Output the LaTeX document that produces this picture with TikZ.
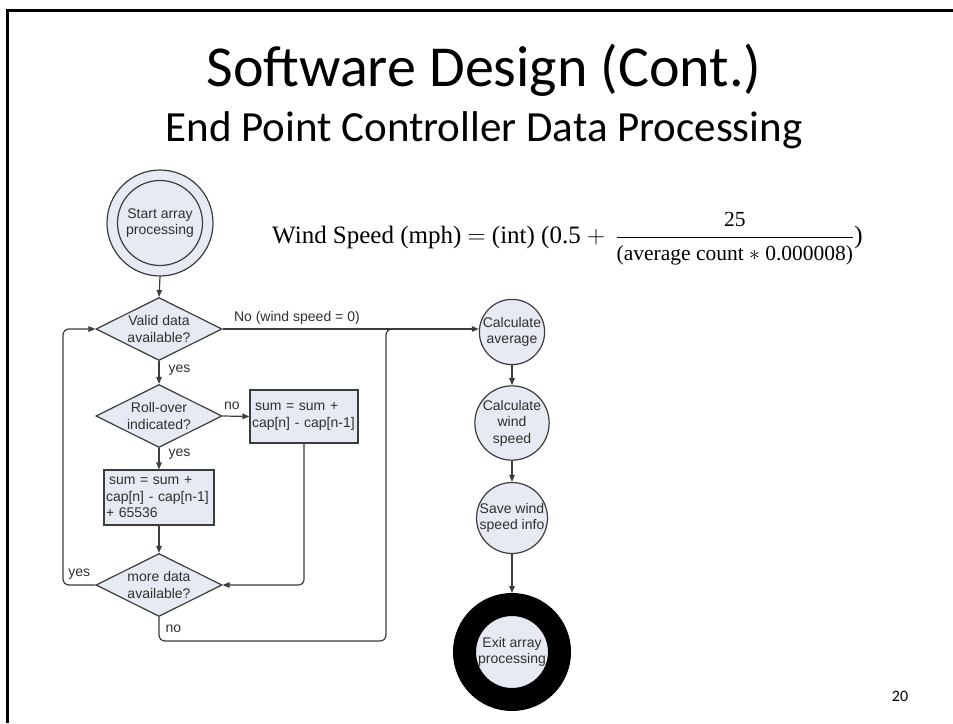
\documentclass[tikz,border=0pt]{standalone}
\usepackage{fix-cm}
\usepackage{fontspec}
\setmainfont{Carlito}
\newfontfamily\arialf{Liberation Sans}
\newfontfamily\seriff{Liberation Serif}
\usetikzlibrary{shapes.geometric,arrows.meta}
\definecolor{fillc}{HTML}{E6EAF3}
\definecolor{linec}{HTML}{3C3C3C}
\newcommand{\fracfont}{\seriff\fontsize{21.5}{23}\selectfont}
\tikzset{
  fc/.style={draw=linec, line width=1.2pt, fill=fillc, font=\arialf\fontsize{14}{16.5}\selectfont, align=center, inner sep=0pt, text=linec!80!black},
  dia/.style={fc, diamond, aspect=2, minimum width=126pt, minimum height=63pt},
  circ/.style={fc, circle, minimum size=66pt},
  boxn/.style={fc, rectangle, align=left, inner xsep=2pt},
  conn/.style={draw=linec, line width=1.2pt},
  arr/.style={conn, -{Triangle[length=7pt,width=5.5pt]}},
  lbl/.style={font=\arialf\fontsize{14}{16.5}\selectfont, text=linec!80!black, inner sep=1pt},
}
\begin{document}
\begin{tikzpicture}[x=1pt,y=-1pt]
\useasboundingbox (0,0) rectangle (953,723);
% slide frame
\draw[line width=3pt] (7,723) -- (7,10.5) -- (953,10.5);
% titles
\node[anchor=base, font=\fontsize{58}{60}\selectfont] (title) at (484,86) {Software Design (Cont.)};
\node[anchor=base, font=\fontsize{43}{45}\selectfont] (subtitle) at (484,141) {End Point Controller Data Processing};
% formula
\node[anchor=base west, inner sep=0pt, font=\seriff\fontsize{25}{27}\selectfont] (formula) at (272,243)
  {Wind Speed (mph) $=$ (int) (0.5 $+$ \,$\displaystyle\frac{\mbox{\fracfont 25}}{\mbox{\fracfont (average count $*$ 0.000008)}}$)};
% page number
\node[font=\fontsize{16}{18}\selectfont] (pagenum) at (900,696) {20};

% flowchart nodes
\node[fc, circle, minimum size=106pt] (start) at (160,223) {};
\node[fc, circle, minimum size=85pt, fill=none] (starti) at (start) {Start array\\processing};
\node[dia] (d1) at (159,329) {Valid data\\available?};
\node[dia] (d2) at (159,416) {Roll-over\\indicated?};
\node[boxn, text width=104pt, minimum height=53pt] (b1) at (304,416.5) {\hspace{3pt}sum = sum +\\cap[n] - cap[n-1]};
\node[boxn, text width=106pt, minimum height=55pt] (b2) at (159,497.5) {\hspace{3pt}sum = sum +\\cap[n] - cap[n-1]\\+ 65536};
\node[dia] (d3) at (159,585) {more data\\available?};
\node[circ, minimum size=64pt] (avg) at (512,332) {Calculate\\average};
\node[circ] (ws) at (512,423) {Calculate\\wind\\speed};
\node[circ] (save) at (512,518) {Save wind\\speed info};
\node[fc, circle, minimum size=95pt, draw=black, line width=23pt] (exit) at (512,652) {Exit array\\processing};

\coordinate (lx) at (63,585);
\coordinate (jn) at (386,641);

% connectors
\draw[arr] (start.south) -- (d1.north);
\draw[arr] (d1.east) -- node[lbl, pos=0.29, above=3pt] {No (wind speed = 0)} (d1.east -| avg.west);
\draw[arr] (d1.south) -- node[lbl, pos=0.4, right=8pt] {yes} (d2.north);
\draw[arr] (d2.east) -- node[lbl, pos=0.35, above=5pt] {no} (b1.west);
\draw[arr] (d2.south) -- node[lbl, pos=0.3, right=8pt] {yes} (b2.north);
\draw[arr] (b2.south) -- (d3.north);
\draw[arr, rounded corners=5pt] (b1.south) |- (d3.east);
\draw[arr, rounded corners=6pt] (d3.west) -- node[lbl, above=4pt] {yes} (lx) |- (d1.west);
\draw[conn, rounded corners=6pt] (d3.south) |- node[lbl, pos=0.25, right=5pt] {no} (jn) -- (jn |- d1.east) -- ([xshift=12pt]jn |- d1.east);
\draw[arr] (avg.south) -- (ws.north);
\draw[arr] (ws.south) -- (save.north);
\draw[arr] (save.south) -- (exit.north);
\end{tikzpicture}
\end{document}
